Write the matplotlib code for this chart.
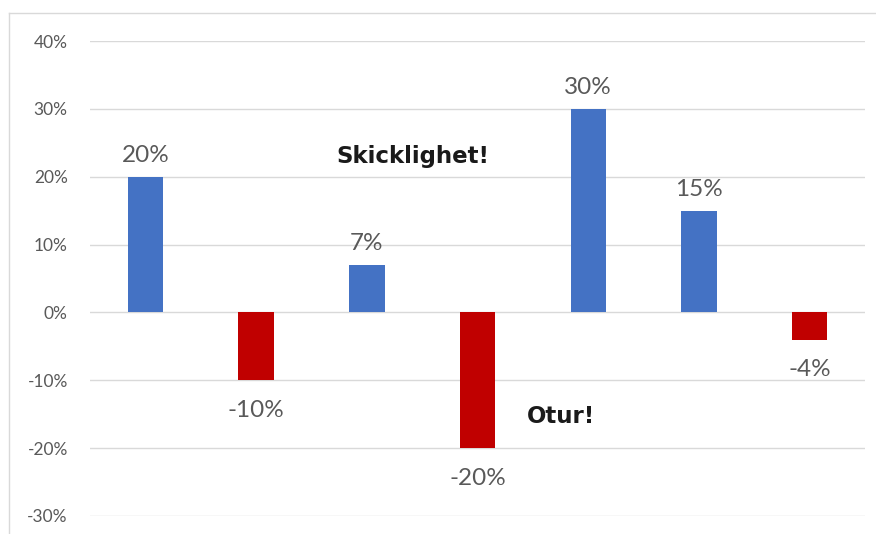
import matplotlib
matplotlib.use("Agg")
import matplotlib.pyplot as plt
from matplotlib.lines import Line2D

categories = ["A", "B", "C", "D", "E", "F", "G"]
values = [20, -10, 7, -20, 30, 15, -4]
yticks = [-30, -20, -10, 0, 10, 20, 30, 40]
ytick_labels = ["-30%", "-20%", "-10%", "0%", "10%", "20%", "30%", "40%"]
pos_color = "#4472C4"
neg_color = "#C00000"

plt.rcParams['font.family'] = ['Lato', 'DejaVu Sans']

fig = plt.figure(figsize=(8.76, 5.34), dpi=100)
ax = fig.add_axes([90/876, 1-516/534, 775/876, (516-41)/534])

x = list(range(len(categories)))
colors = [pos_color if v >= 0 else neg_color for v in values]
ax.bar(x, values, width=0.32, color=colors, zorder=3)

ax.set_xlim(-0.5, len(categories) - 0.5)
ax.set_ylim(-30, 40)
ax.set_yticks(yticks)
ax.set_yticklabels(ytick_labels, color="#595959", fontsize=12.5)
ax.set_xticks([])
ax.tick_params(axis='y', length=0, pad=16)
ax.grid(axis='y', color="#d9d9d9", linewidth=1, zorder=0)
for s in ax.spines.values():
    s.set_visible(False)

for xi, v in zip(x, values):
    if v >= 0:
        ax.annotate(f"{v}%", (xi, v), xytext=(0, 8), textcoords="offset points",
                    ha="center", va="bottom", fontsize=17.5, color="#595959")
    else:
        ax.annotate(f"{v}%", (xi, v), xytext=(0, -14), textcoords="offset points",
                    ha="center", va="top", fontsize=17.5, color="#595959")

ax.text(2.42, 23.0, "Skicklighet!", ha="center", va="center", fontsize=16.5,
        fontweight="bold", color="#1a1a1a", family="DejaVu Sans")
ax.text(3.75, -15.3, "Otur!", ha="center", va="center", fontsize=16.5,
        fontweight="bold", color="#1a1a1a", family="DejaVu Sans")

fig.add_artist(Line2D([9/876, 9/876], [0, 1-13/534], transform=fig.transFigure,
                      color="#d9d9d9", linewidth=1))
fig.add_artist(Line2D([9/876, 1], [1-13/534, 1-13/534], transform=fig.transFigure,
                      color="#d9d9d9", linewidth=1))

fig.savefig("out.png", dpi=100)
